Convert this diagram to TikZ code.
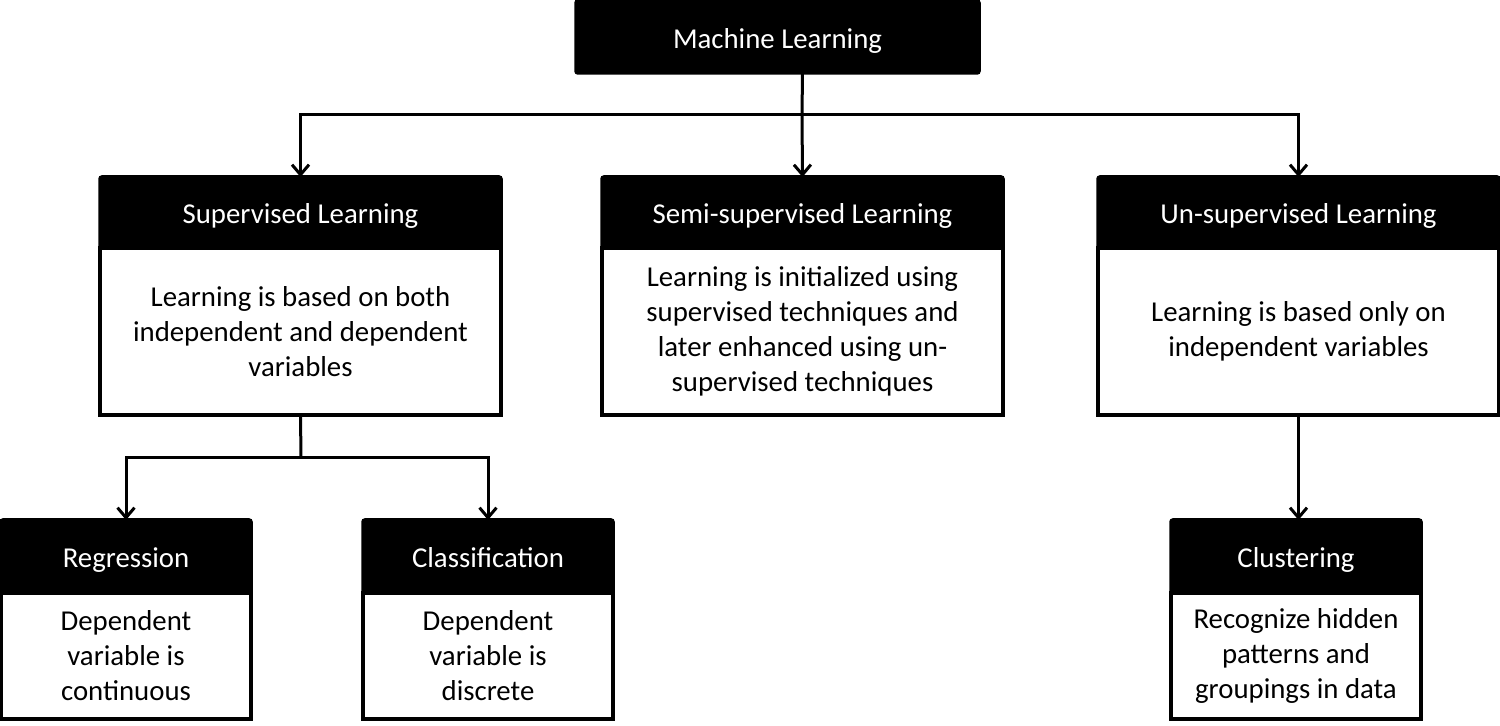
\documentclass[tikz,border=0pt]{standalone}
\usepackage{fontspec}
\setmainfont{Carlito}
\usetikzlibrary{positioning,arrows.meta}

\tikzset{
  hdr/.style={rectangle,draw=black,fill=black,text=white,line width=1.75pt,
              rounded corners=1pt,outer sep=0pt,minimum height=35.5pt,
              text height=11.4pt,text depth=0pt},
  bodybox/.style={rectangle,draw=black,fill=white,line width=1.75pt,
                  outer sep=0pt,align=center},
}

\begin{document}
\begin{tikzpicture}[x=0.5pt,y=-0.5pt,font=\fontsize{14.4}{17.5}\selectfont]
\useasboundingbox (0,0) rectangle (1500,726);

\begin{scope}[every node/.style={anchor=north west}]
    \node[hdr,minimum width=201.5pt,minimum height=36pt] (ml) at (576,1) {Machine Learning};
    \node[hdr,minimum width=200.5pt] (sup) at (100,177) {Supervised Learning};
    \node[hdr,minimum width=200.5pt] (semi) at (602,177) {Semi-supervised Learning};
    \node[hdr,minimum width=200.5pt] (unsup) at (1098,177) {Un-supervised Learning};
    \node[hdr,minimum width=125pt,minimum height=36.5pt] (reg) at (1,520) {Regression};
    \node[hdr,minimum width=125pt,minimum height=36.5pt] (cls) at (363,520) {Classification};
    \node[hdr,minimum width=125pt,minimum height=36.5pt] (clus) at (1171,520) {Clustering};
\end{scope}

\begin{scope}[every node/.style={bodybox}]
    \node[minimum width=200.5pt,minimum height=83.5pt,below=0pt of sup] (supbody)
        {Learning is based on both\\independent and dependent\\variables};
    \node[minimum width=200.5pt,minimum height=83.5pt,below=0pt of semi] (semibody)
        {Learning is initialized using\\supervised techniques and\\later enhanced using un-\\supervised techniques};
    \node[minimum width=200.5pt,minimum height=83.5pt,below=0pt of unsup] (unsupbody)
        {Learning is based only on\\independent variables};
    \node[minimum width=125pt,minimum height=63pt,below=0pt of reg] (regbody)
        {Dependent\\variable is\\continuous};
    \node[minimum width=125pt,minimum height=63pt,below=0pt of cls] (clsbody)
        {Dependent\\variable is\\discrete};
    \node[minimum width=125pt,minimum height=63pt,below=0pt of clus] (clusbody)
        {Recognize hidden\\patterns and\\groupings in data};
\end{scope}

\coordinate (mlsplit) at (802,115);
\coordinate (supsplit) at (301,458);

\begin{scope}[>={Straight Barb[length=5pt,width=8.5pt,line width=1.5pt]},
              every edge/.style={draw=black,line width=1.5pt}]
    \draw[line width=1.5pt] (ml.south -| semi.north) -- (mlsplit);
    \draw[line width=1.5pt,->] (mlsplit) -| (sup.north);
    \draw[line width=1.5pt,->] (mlsplit) -| (unsup.north);
    \path [->] (mlsplit) edge (semi.north);
    \draw[line width=1.5pt] (supbody.south) -- (supsplit);
    \draw[line width=1.5pt,->] (supsplit) -| (reg.north);
    \draw[line width=1.5pt,->] (supsplit) -| (cls.north);
    \path [->] (unsupbody.south) edge (unsupbody.south |- clus.north);
\end{scope}
\end{tikzpicture}
\end{document}
